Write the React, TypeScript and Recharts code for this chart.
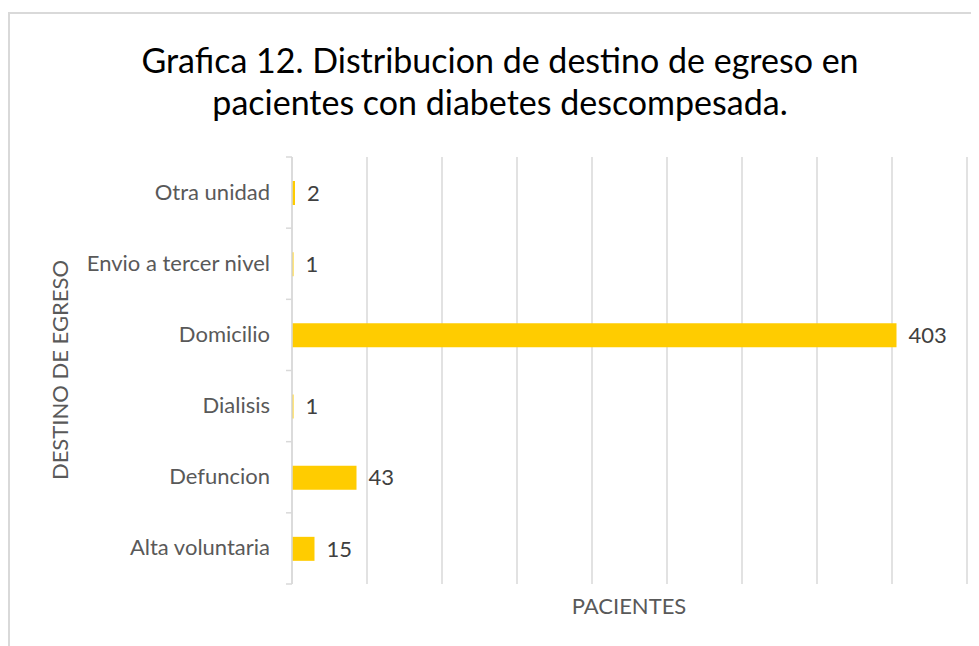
import React from 'react';
import { BarChart, Bar, XAxis, YAxis, CartesianGrid, LabelList } from 'recharts';

const categories = ['Otra unidad', 'Envio a tercer nivel', 'Domicilio', 'Dialisis', 'Defuncion', 'Alta voluntaria'];
const pacientes = [2, 1, 403, 1, 43, 15];
const xTicks = [0, 50, 100, 150, 200, 250, 300, 350, 400, 450];

const data = categories.map((name, i) => ({ name, value: pacientes[i] }));

const FONT = 'Lato, "Open Sans", sans-serif';
const GRID = '#d9d9d9';
const PLOT_TOP = 157;
const PLOT_BOTTOM = 584;
const BAND = (PLOT_BOTTOM - PLOT_TOP) / categories.length;

// label at the band centre, tick marks at band edges (Excel style)
const CategoryTick = (props: any) => {
  const { x, y, payload, index } = props;
  const axisX = x + 8;
  return (
    <g>
      <line x1={axisX - 6} x2={axisX} y1={y - BAND / 2} y2={y - BAND / 2} stroke={GRID} strokeWidth={1.5} />
      {index === categories.length - 1 && (
        <line x1={axisX - 6} x2={axisX} y1={y + BAND / 2} y2={y + BAND / 2} stroke={GRID} strokeWidth={1.5} />
      )}
      <text x={axisX - 22} y={y} dy={7} textAnchor="end" fill="#595959" fontSize={22} fontFamily={FONT}>
        {payload.value}
      </text>
    </g>
  );
};

const NoTick = () => <g />;

export default function App() {
  return (
    <div style={{ position: 'relative', width: 971, height: 638, fontFamily: FONT }}>
      <div
        style={{
          position: 'absolute',
          left: 0,
          top: 4,
          width: 980,
          height: 650,
          borderTop: `2px solid ${GRID}`,
          borderLeft: `2px solid ${GRID}`,
          boxSizing: 'border-box',
        }}
      />
      <div
        style={{
          position: 'absolute',
          left: 0,
          top: 31,
          width: 984,
          textAlign: 'center',
          fontSize: 34,
          lineHeight: '42px',
          color: '#000',
        }}
      >
        Grafica 12. Distribucion de destino de egreso en
        <br />
        pacientes con diabetes descompesada.
      </div>
      <div
        style={{
          position: 'absolute',
          left: 60 - 8 - 150,
          top: 370 - 8 - 14,
          width: 300,
          height: 28,
          lineHeight: '28px',
          textAlign: 'center',
          fontSize: 22,
          color: '#595959',
          transform: 'rotate(-90deg)',
        }}
      >
        DESTINO DE EGRESO
      </div>
      <div
        style={{
          position: 'absolute',
          left: 629 - 8 - 100,
          top: 592 - 8,
          width: 200,
          textAlign: 'center',
          fontSize: 22,
          color: '#595959',
        }}
      >
        PACIENTES
      </div>
      <div style={{ position: 'absolute', left: -8, top: -8 }}>
        <BarChart
          width={979}
          height={646}
          data={data}
          layout="vertical"
          margin={{ top: PLOT_TOP, right: 12, bottom: 646 - PLOT_BOTTOM, left: 0 }}
          barSize={24}
        >
          <CartesianGrid horizontal={false} stroke={GRID} strokeWidth={1.5} />
          <XAxis
            type="number"
            domain={[0, 450]}
            ticks={xTicks}
            tick={<NoTick />}
            axisLine={false}
            tickLine={false}
            height={0}
          />
          <YAxis
            type="category"
            dataKey="name"
            width={292}
            axisLine={{ stroke: GRID, strokeWidth: 1.5 }}
            tickLine={false}
            tick={<CategoryTick />}
            interval={0}
          />
          <Bar dataKey="value" fill="#FFCC00" isAnimationActive={false}>
            <LabelList dataKey="value" position="right" offset={12} fill="#404040" fontSize={22} fontFamily={FONT} />
          </Bar>
        </BarChart>
      </div>
    </div>
  );
}
